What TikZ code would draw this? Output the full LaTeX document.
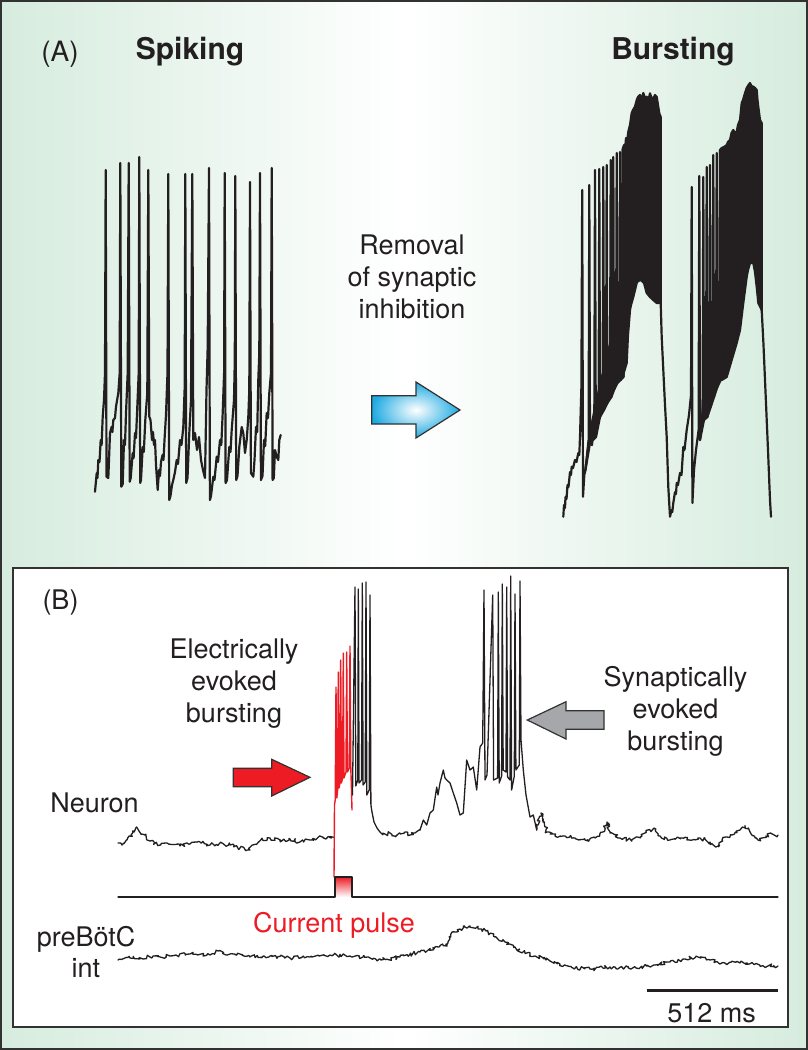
\documentclass[tikz,border=0pt]{standalone}
\usepackage{fontspec}
\setmainfont{TeX Gyre Heros}
\usetikzlibrary{decorations.pathmorphing}
\definecolor{bggreen}{RGB}{214,236,222}
\definecolor{tracecol}{RGB}{35,31,32}
\definecolor{pulsered}{RGB}{237,28,36}
\definecolor{arrowblue}{RGB}{30,170,226}
\definecolor{arrowgray}{RGB}{165,167,170}
\definecolor{framecol}{RGB}{50,50,50}
\tikzset{
  lbl/.style={font=\fontsize{27}{32}\selectfont, inner sep=0pt, align=center, text=tracecol},
  ttl/.style={font=\fontsize{30}{36}\selectfont\bfseries, inner sep=0pt, text=tracecol},
  traceA/.style={draw=tracecol, line width=2.2pt, line join=round, line cap=round},
  traceB/.style={draw=tracecol, line width=1.3pt, line join=round, line cap=round},
  noisy/.style={decorate, decoration={random steps, segment length=1.8pt, amplitude=2pt}},
  blockarrow/.style={draw=framecol, line width=1.2pt, line join=miter},
}
\begin{document}
\begin{tikzpicture}[x=1pt,y=-1pt]
\pgfmathsetseed{4242}
\useasboundingbox (0,0) rectangle (808,1050);
% background
\shade[left color=bggreen, right color=bggreen, middle color=white] (0,0) rectangle (808,1050);
\draw[framecol, line width=2pt] (1,1) rectangle (807,1049);

% ---------------- Panel A ----------------
\node[lbl, anchor=base, font=\fontsize{28}{34}\selectfont] (labelA) at (60,61.5) {(A)};
\node[ttl, anchor=base] (spiking) at (190,59) {Spiking};
\node[ttl, anchor=base] (bursting) at (673,59) {Bursting};
\node[lbl, anchor=base] (removal) at (412,318) {Removal\\of synaptic\\inhibition};

% blue block arrow
\shadedraw[blockarrow, inner color=white, outer color=arrowblue]
  (371.7,395.7) -- (416,395.7) -- (416,382) -- (460,410) -- (416,438) -- (416,424) -- (371.7,424) -- cycle;

% spiking trace
\draw[traceA] (95,491.7) -- (96.7,473) -- (97.5,478) -- (98.3,460) -- (99.5,462) -- (100.7,440) -- (101.6,445) -- (102.7,416.7) -- (104,400) -- (105,373) -- (105.7,170) -- (106.5,476.7) -- (108.3,478) -- (109,460) -- (110,433) -- (111.7,426.7) -- (112.4,432) -- (113.3,420) -- (115,418) -- (116,406.7) -- (118.3,393) -- (119.7,373) -- (120.3,163) -- (121.3,486.7) -- (122.7,484) -- (124,440) -- (125,445) -- (126,413) -- (127.7,373) -- (128.7,163) -- (129.7,481.7) -- (130.7,478) -- (132.7,453) -- (133.6,458) -- (135,433) -- (136,438) -- (137.3,407) -- (138.7,373) -- (139.3,157) -- (140.2,483) -- (141,480) -- (142.7,447) -- (143.8,452) -- (145.3,420) -- (147.3,393) -- (148.3,170) -- (149.3,416.7) -- (150.5,420) -- (152,440) -- (153,432) -- (154,445) -- (155,440) -- (156,465) -- (157.7,490) -- (159,470) -- (160,476) -- (161,462) -- (162.5,455) -- (163.5,460) -- (164.5,440) -- (166,415) -- (167.5,373) -- (168.3,174) -- (169.2,500) -- (170.5,496) -- (172,485) -- (173.3,480) -- (175,472) -- (176.7,460) -- (178,464) -- (180,440) -- (181.5,445) -- (183.3,427) -- (184.7,387) -- (185.3,174) -- (186.2,483) -- (187.5,478) -- (189.3,433) -- (191,400) -- (192.3,174) -- (193.3,440) -- (195,433) -- (197,450) -- (199,437) -- (201,460) -- (203,470) -- (205,478) -- (206.5,390) -- (207.7,346.7) -- (209,168) -- (209.9,500) -- (211,496) -- (213.3,476.7) -- (214.5,480) -- (216.7,456.7) -- (218,462) -- (220,440) -- (221.3,445) -- (222.7,413) -- (224.1,373) -- (224.7,173) -- (225.6,483) -- (227,480) -- (229.3,447) -- (230.5,452) -- (231.7,430) -- (234,400) -- (234.8,360) -- (235.3,176) -- (236.2,480) -- (237.5,476) -- (239.3,447) -- (241.7,427) -- (243.3,433) -- (245,453) -- (246.7,440) -- (248.3,417) -- (249.3,390) -- (250,182) -- (250.9,473) -- (253.3,476.7) -- (254.5,460) -- (256,427) -- (257.2,432) -- (258.3,380) -- (259.3,353) -- (260,173) -- (260.9,480) -- (262.5,476) -- (264,440) -- (265.2,446) -- (266.7,413) -- (268,418) -- (269.3,393) -- (271,373) -- (271.7,168) -- (272.6,480) -- (273.8,478) -- (275,450) -- (276.7,456.7) -- (278.3,460) -- (279.3,440) -- (280.7,435);

% bursting trace: burst 1 sparse part
\draw[traceA] (563.3,516.7) -- (564,505) -- (565,508) -- (565.5,497) -- (566.5,499) -- (567.5,485) -- (568.5,487) -- (570,472) -- (571,475) -- (571.7,466.7) -- (573,468) -- (575,460) -- (576.5,462) -- (578.3,453) -- (579.3,455) -- (580,437) -- (581.4,387) -- (582.2,190) -- (583,496.7) -- (584.3,475) -- (585.5,470) -- (587,455) -- (588.6,440) -- (589.3,185) -- (590,443) -- (592,445) -- (594.3,420) -- (595,170) -- (595.8,437) -- (598.6,415) -- (599.3,169) -- (600,417) -- (602.6,405) -- (603.3,167) -- (604,410) -- (606,400) -- (606.7,165) -- (607.4,403) -- (610,390) -- (610.7,160) -- (611.4,397) -- (612.6,388) -- (613.3,157) -- (614,390) -- (616,380) -- (616.7,153) -- (617.4,383) -- (619.3,375) -- (620,152) -- (620.7,380) -- (622,372) -- (622.7,149) -- (623.4,377);
% burst 1 lower wedge
\filldraw[traceA, fill=tracecol] (585.5,470) -- (590,443) -- (596,437) -- (600,417) -- (604,410) -- (607.4,403) -- (611.4,397) -- (614,390) -- (617.4,383) -- (620.7,380) -- (623.4,377) -- (623.4,290) -- (620,303) -- (613,332) -- (607,356) -- (600,385) -- (595,408) -- (590,432) -- cycle;
% burst 1 dense part
\filldraw[traceA, fill=tracecol] (622.7,149) -- (624,145) -- (625,150) -- (626,138) -- (627,142) -- (628.3,131.7) -- (630,125) -- (631.7,113) -- (633,110) -- (635,106.7) -- (636.7,100) -- (638,97) -- (640,95) -- (641.5,100) -- (643.3,93) -- (645,98) -- (646.7,96.7) -- (648.5,100) -- (650,93.3) -- (651.5,98) -- (653.3,98.3) -- (655,95) -- (656.7,97) -- (658,105) -- (659.3,113.3) -- (660.7,117) -- (660.7,303) -- (656.7,303) -- (653.3,300) -- (650,297) -- (646.7,293) -- (644,283) -- (641,280) -- (638,281) -- (636.7,283) -- (633.3,297) -- (631,305) -- (630,310) -- (628,335) -- (626.7,363) -- (624,372) -- (622.7,377) -- cycle;
% fall and burst 2 sparse part
\draw[traceA] (660.7,303) -- (661.7,337) -- (663.3,370) -- (665,405) -- (666.7,437) -- (668.3,487) -- (670,516.7) -- (671.5,510) -- (672.3,512) -- (673.3,503) -- (675,492) -- (676,494) -- (676.7,483) -- (678,485) -- (680,473) -- (681.5,475) -- (683.3,447) -- (684.5,450) -- (686.7,430) -- (689,415) -- (691,395) -- (691.7,187) -- (692.4,503) -- (694,470) -- (696,450) -- (698.6,430) -- (699.3,176) -- (700,440) -- (702.6,418) -- (703.3,177) -- (704,420) -- (706,410) -- (706.7,167) -- (707.4,417) -- (709.3,400) -- (710,165) -- (710.7,407) -- (712.6,392) -- (713.3,155) -- (714,397) -- (716,382) -- (716.7,153) -- (717.4,387) -- (719.3,375) -- (720,150) -- (720.7,380);
% burst 2 lower wedge
\filldraw[traceA, fill=tracecol] (700,440) -- (704,420) -- (707.4,417) -- (710.7,407) -- (714,397) -- (717.4,387) -- (720.7,380) -- (720.7,320) -- (716,342) -- (710,368) -- (704,395) -- cycle;
% burst 2 dense part
\filldraw[traceA, fill=tracecol] (720,150) -- (721.7,148) -- (724,147) -- (726.7,145) -- (728,142) -- (730,140) -- (731.5,133) -- (733.3,130) -- (735,133) -- (736.7,131.7) -- (738,125) -- (740,120) -- (741.7,103) -- (743,100) -- (745,93) -- (746.7,88) -- (748.5,85) -- (750,83) -- (751.5,86) -- (753.3,86.7) -- (755,88) -- (756.7,90) -- (757.5,100) -- (758.3,106.7) -- (760,120) -- (761.7,123) -- (761.7,310) -- (758.3,303) -- (756.7,287) -- (755,272) -- (753.3,263) -- (750,263) -- (748,270) -- (746.7,277) -- (743.3,303) -- (740,330) -- (736.7,343) -- (731.7,360) -- (726.7,377) -- (721.7,380) -- (720,380) -- cycle;
\draw[traceA] (761.7,310) -- (763.5,345) -- (765,380) -- (766.5,415) -- (768,450) -- (770,500) -- (771,516.7);

% ---------------- Panel B ----------------
\draw[framecol, line width=2pt, fill=white] (13,568) rectangle (788,1027);
\node[lbl, anchor=base] (labelB) at (60.5,609) {(B)};
\node[lbl, anchor=base] (elec) at (234,722) {Electrically\\evoked\\bursting};
\node[lbl, anchor=base] (syn) at (675.5,750.7) {Synaptically\\evoked\\bursting};
\node[lbl, anchor=base] (neuron) at (94.5,812.7) {Neuron};
\node[lbl, anchor=base, font=\fontsize{27}{31}\selectfont] (prebotc) at (86,977) {preBötC\\int};
\node[lbl, anchor=base, text=pulsered] (current) at (334,932) {Current pulse};
\node[lbl, anchor=base] (scale) at (711.7,1022.5) {512 ms};

% red block arrow
\filldraw[blockarrow, fill=pulsered]
  (233.3,768.3) -- (271.7,768.3) -- (271.7,759.3) -- (310,777.3) -- (271.7,796) -- (271.7,786.7) -- (233.3,786.7) -- cycle;
% gray block arrow
\filldraw[blockarrow, fill=arrowgray]
  (604,710.7) -- (566,710.7) -- (566,701.7) -- (527.3,720) -- (566,739) -- (566,729.3) -- (604,729.3) -- cycle;

% neuron trace: baselines
\draw[traceB, noisy] plot coordinates {(118,843) (122,845) (127,840) (131,835) (135.7,828) (139,831) (144.6,835) (150,841) (160,845) (167,843) (180,846) (190,844) (200,842) (210,845) (220,843) (230,845) (240,848) (247.3,850) (253,845) (260.7,840) (270,838) (280,841) (290,839) (300,842) (310,840) (318.8,836.7) (326,839) (334,837)};
\draw[traceB, noisy] plot coordinates {(380,832) (385,834) (390,833) (395,836) (400,833) (405,832) (410,835) (415,833) (420,830)};
\draw[traceB, noisy] plot coordinates {(536.7,830) (539,818) (541,813) (543,822) (547,832) (555,836) (565,836) (575,838) (585,840) (595,838) (603,832) (607,822) (611,833) (620,838) (632,840) (642,836) (650,830) (654,828) (660,836) (670,840) (680,838) (690,840) (700,838) (710,842) (716,847) (722,840) (732,835) (740,830) (745,826) (750,832) (758,840) (766,836) (772,834) (778,835)};
% neuron trace: electrically evoked burst (red)
\draw[traceB, draw=pulsered, line width=1.4pt] (334,877) -- (334.5,805) -- (335.2,800) -- (336,687) -- (336.8,798) -- (337.6,790) -- (338.3,672) -- (339,788) -- (340,783) -- (340.7,660) -- (341.4,783) -- (342.6,778) -- (343.3,653) -- (344,778) -- (346,772) -- (346.7,652) -- (347.4,772) -- (349.3,768) -- (350,646) -- (350.8,768) -- (351.5,790) -- (352,810);
% black spikes following
\draw[traceB] (352.5,795) -- (355,587) -- (355.8,786) -- (357.8,780) -- (358.3,589) -- (359.1,783) -- (361.5,780) -- (362.3,583) -- (363.1,785) -- (365.2,782) -- (366,582) -- (366.8,795) -- (369.2,790) -- (370,595) -- (370.9,805) -- (372,812) -- (374,822) -- (377,828) -- (380,832);
% synaptically evoked burst
\draw[traceB] (420,830) -- (423.3,820) -- (426.7,825) -- (430,813) -- (433.3,810) -- (436.7,787) -- (438,795) -- (440,783) -- (443.3,770) -- (445,778) -- (446.7,780) -- (450,783) -- (453.3,793) -- (456.7,803) -- (460,815) -- (463.3,813) -- (466.7,760) -- (470,770) -- (473.3,767) -- (476.7,790) -- (480,747) -- (482.7,743) -- (484,590) -- (485,780) -- (487,775) -- (492.7,595) -- (493.6,780) -- (497.6,778) -- (498.3,592) -- (499.2,783) -- (501.6,776) -- (502.3,584) -- (503.2,770) -- (506,772) -- (506.7,587) -- (507.6,777) -- (510,780) -- (510.7,576) -- (511.6,790) -- (514.3,776) -- (515,594) -- (515.9,770) -- (519.3,765) -- (520,581) -- (521,740) -- (523.3,770) -- (526,795) -- (530,817) -- (533.3,815) -- (536.7,830);

% current trace with pulse
\shade[top color=pulsered, bottom color=white] (335,877) rectangle (352,897);
\draw[traceB, line width=1.2pt] (118,897) -- (335,897) -- (335,877) -- (352,877) -- (352,897) -- (778,897);

% preBotC trace
\draw[traceB, noisy] plot coordinates {(118,960) (130,958) (150,957) (170,956) (190,954) (210,955) (216,951) (230,954) (250,957) (270,956) (290,958) (310,957) (330,955) (350,956) (370,958) (381,960) (400,957) (420,952) (439,947) (447,945) (452,932) (460,929) (470,926) (478,928) (486,931) (495,937) (505,942) (515,947) (525,953) (535,956) (546,960) (560,964) (573,968) (590,969) (610,967) (636,968) (655,965) (670,962) (685,959) (698,957) (710,960) (725,963) (740,963) (755,964) (768,966) (778,966)};

% scale bar
\draw[tracecol, line width=3pt] (646.7,990.7) -- (778.3,990.7);
\end{tikzpicture}
\end{document}
